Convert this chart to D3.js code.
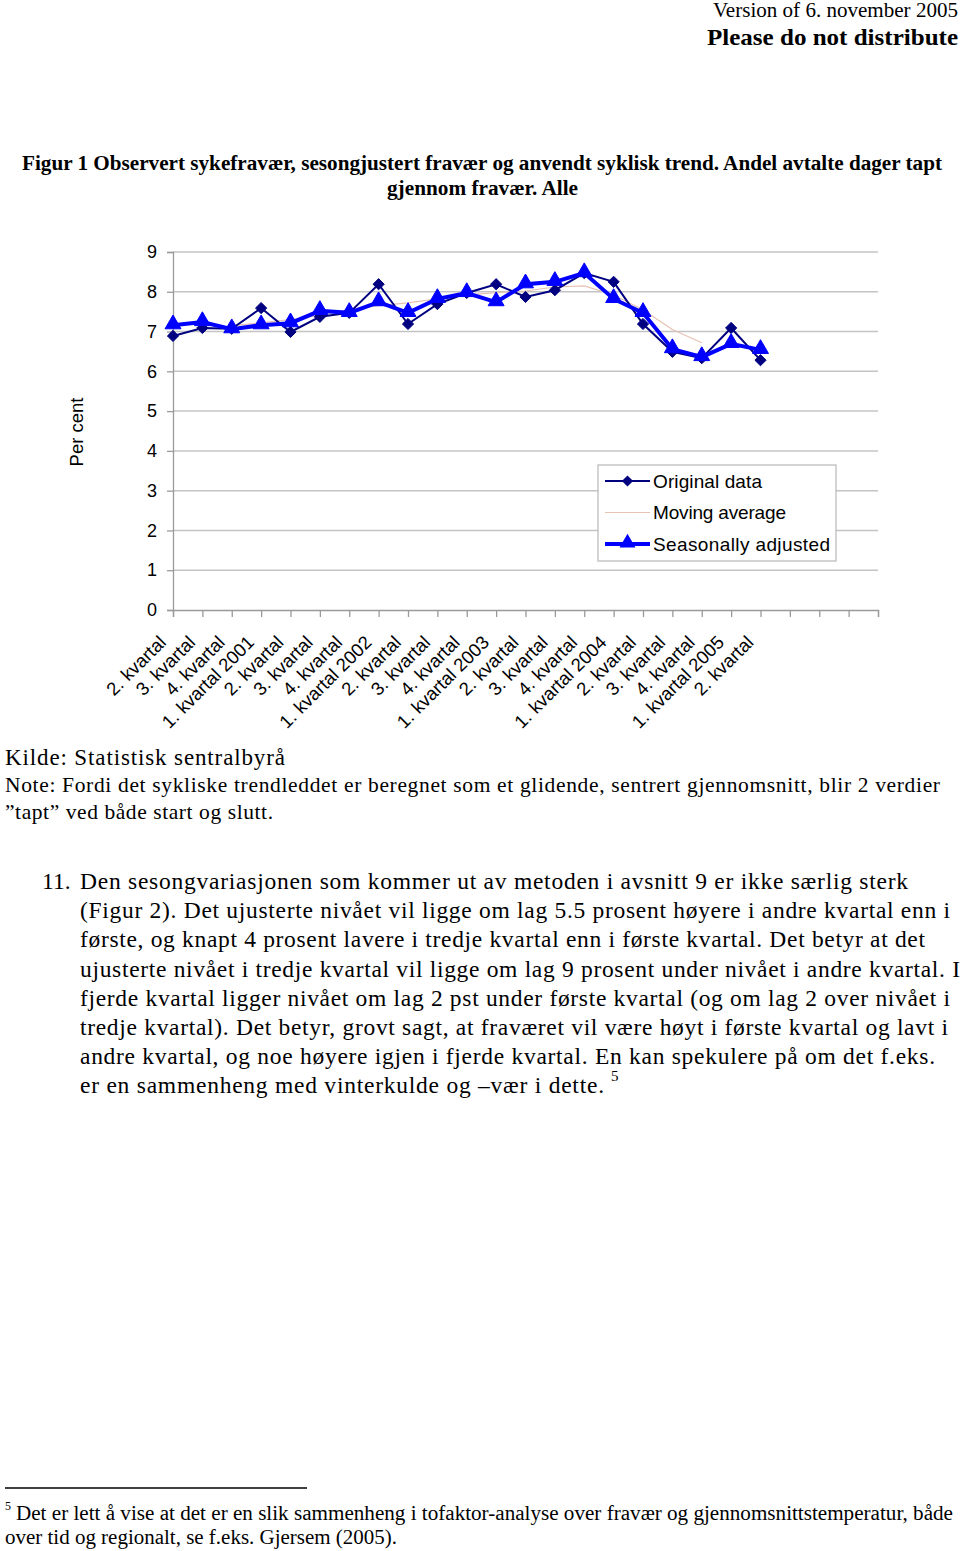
<!DOCTYPE html>
<html>
<head>
<meta charset="utf-8">
<script src="https://cdn.jsdelivr.net/npm/d3@7"></script>
<style>
  html, body { margin: 0; padding: 0; background: #fff; }
  svg { display: block; }
</style>
</head>
<body>
<svg id="page" width="960" height="1551"></svg>
<script>
// ---------- DATA ----------
const categories = ["2. kvartal", "3. kvartal", "4. kvartal", "1. kvartal 2001",
  "2. kvartal", "3. kvartal", "4. kvartal", "1. kvartal 2002",
  "2. kvartal", "3. kvartal", "4. kvartal", "1. kvartal 2003",
  "2. kvartal", "3. kvartal", "4. kvartal", "1. kvartal 2004",
  "2. kvartal", "3. kvartal", "4. kvartal", "1. kvartal 2005",
  "2. kvartal"];
const originalData = [6.89, 7.09, 7.07, 7.59, 6.99, 7.37, 7.47, 8.19, 7.19, 7.69, 7.97,
  8.19, 7.87, 8.04, 8.47, 8.25, 7.19, 6.49, 6.33, 7.09, 6.28];
const movingAverage = [null, null, 7.15, 7.22, 7.30, 7.42, 7.55, 7.65, 7.72, 7.82, 7.92,
  7.98, 8.02, 8.12, 8.15, 7.92, 7.55, 7.05, 6.72, null, null];
const seasonallyAdjusted = [7.16, 7.24, 7.06, 7.16, 7.21, 7.52, 7.47, 7.74, 7.47, 7.82, 7.97,
  7.74, 8.19, 8.25, 8.47, 7.82, 7.47, 6.56, 6.36, 6.69, 6.54];
const yTicks = [0, 1, 2, 3, 4, 5, 6, 7, 8, 9];
const slotCount = 25; // category axis slots (last ones empty)
const seriesNames = ["Original data", "Moving average", "Seasonally adjusted"];

const headerLines = ["Version of 6. november 2005", "Please do not distribute"];
const titleLines = ["Figur 1 Observert sykefravær, sesongjustert fravær og anvendt syklisk trend. Andel avtalte dager tapt",
  "gjennom fravær. Alle"];
const noteLines = ["Kilde: Statistisk sentralbyrå",
  "Note: Fordi det sykliske trendleddet er beregnet som et glidende, sentrert gjennomsnitt, blir 2 verdier",
  "”tapt” ved både start og slutt."];
const bodyLines = [
  "Den sesongvariasjonen som kommer ut av metoden i avsnitt 9 er ikke særlig sterk",
  "(Figur 2). Det ujusterte nivået vil ligge om lag 5.5 prosent høyere i andre kvartal enn i",
  "første, og knapt 4 prosent lavere i tredje kvartal enn i første kvartal. Det betyr at det",
  "ujusterte nivået i tredje kvartal vil ligge om lag 9 prosent under nivået i andre kvartal. I",
  "fjerde kvartal ligger nivået om lag 2 pst under første kvartal (og om lag 2 over nivået i",
  "tredje kvartal). Det betyr, grovt sagt, at fraværet vil være høyt i første kvartal og lavt i",
  "andre kvartal, og noe høyere igjen i fjerde kvartal. En kan spekulere på om det f.eks.",
  "er en sammenheng med vinterkulde og –vær i dette."];
const footnoteLines = ["Det er lett å vise at det er en slik sammenheng i tofaktor-analyse over fravær og gjennomsnittstemperatur, både",
  "over tid og regionalt, se f.eks. Gjersem (2005)."];

// ---------- PAGE ----------
const svg = d3.select("#page");
const SERIF = "'Liberation Serif', 'Times New Roman', serif";
const SANS = "'Liberation Sans', Arial, sans-serif";

function txt(x, y, s, o = {}) {
  const t = svg.append("text")
    .attr("x", x).attr("y", y)
    .attr("font-family", o.family || SERIF)
    .attr("font-size", o.size || 20)
    .attr("font-weight", o.weight || "normal")
    .attr("text-anchor", o.anchor || "start")
    .attr("fill", "#000")
    .text(s);
  if (o.width) t.attr("textLength", o.width).attr("lengthAdjust", o.adjust || "spacingAndGlyphs");
  return t;
}

// header
txt(958, 17, headerLines[0], {size: 20, anchor: "end", width: 245});
txt(958, 45, headerLines[1], {size: 24, weight: "bold", anchor: "end", width: 251});
// title
txt(22, 170, titleLines[0], {size: 20, weight: "bold", width: 920});
txt(387, 195, titleLines[1], {size: 20, weight: "bold", width: 191});

// ---------- CHART ----------
const x = d3.scaleLinear().domain([0, slotCount - 1]).range([173, 878]);
const y = d3.scaleLinear().domain([0, 9]).range([610, 252]);
const chart = svg.append("g");

// gridlines
chart.append("g").selectAll("line").data(yTicks.filter(d => d > 0)).join("line")
  .attr("x1", x(0)).attr("x2", x(slotCount - 1))
  .attr("y1", d => y(d)).attr("y2", d => y(d))
  .attr("stroke", "#c4c4c4").attr("stroke-width", 1.5);

// y axis
const yAxis = chart.append("g").attr("transform", `translate(${x(0)},0)`)
  .call(d3.axisLeft(y).tickValues(yTicks).tickSize(6).tickPadding(10).tickFormat(d3.format("d")));
yAxis.select(".domain").attr("stroke", "#9a9a9a").attr("stroke-width", 1.3);
yAxis.selectAll(".tick line").attr("stroke", "#9a9a9a").attr("stroke-width", 1.3);
yAxis.selectAll(".tick text").attr("font-family", SANS).attr("font-size", 18).attr("fill", "#000");

// x axis
const xAxis = chart.append("g").attr("transform", `translate(0,${y(0)})`)
  .call(d3.axisBottom(x).tickValues(d3.range(slotCount)).tickSize(7)
    .tickFormat(i => categories[i] || ""));
xAxis.select(".domain").attr("stroke", "#9a9a9a").attr("stroke-width", 1.3);
xAxis.selectAll(".tick line").attr("stroke", "#9a9a9a").attr("stroke-width", 1.3);
xAxis.selectAll(".tick text")
  .attr("font-family", SANS).attr("font-size", 18.5).attr("fill", "#000")
  .attr("x", 0).attr("y", 0).attr("dy", "0.35em")
  .attr("text-anchor", "end")
  .attr("transform", "translate(-11,29) rotate(-45)");

// y axis title
svg.append("text")
  .attr("transform", "translate(83,432) rotate(-90)")
  .attr("text-anchor", "middle")
  .attr("font-family", SANS).attr("font-size", 18.5)
  .text("Per cent");

// series
const lineGen = d3.line().defined(d => d != null).x((d, i) => x(i)).y(d => y(d));
chart.append("path").datum(movingAverage)
  .attr("d", lineGen).attr("fill", "none").attr("stroke", "#e6c2b4").attr("stroke-width", 1.2);
chart.append("path").datum(originalData)
  .attr("d", lineGen).attr("fill", "none").attr("stroke", "#000080").attr("stroke-width", 2);
chart.append("path").datum(seasonallyAdjusted)
  .attr("d", lineGen).attr("fill", "none").attr("stroke", "#0000ff").attr("stroke-width", 4);

const diamond = d3.symbol().type(d3.symbolDiamond2).size(80);
const triangle = d3.symbol().type(d3.symbolTriangle).size(110);
chart.append("g").selectAll("path").data(originalData).join("path")
  .attr("d", diamond)
  .attr("transform", (d, i) => `translate(${x(i)},${y(d)})`)
  .attr("fill", "#000080").attr("stroke", "#000080").attr("stroke-width", 1);
chart.append("g").selectAll("path").data(seasonallyAdjusted).join("path")
  .attr("d", triangle)
  .attr("transform", (d, i) => `translate(${x(i)},${y(d) - 1})`)
  .attr("fill", "#0000ff").attr("stroke", "#0000ff").attr("stroke-width", 1);

// legend
const leg = svg.append("g").attr("transform", "translate(598,465)");
leg.append("rect").attr("width", 238).attr("height", 96)
  .attr("fill", "#fff").attr("stroke", "#bdbdbd").attr("stroke-width", 1.3);
const legStyles = [
  {stroke: "#000080", w: 2, sym: diamond, fill: "#000080"},
  {stroke: "#e6c2b4", w: 1.2, sym: null},
  {stroke: "#0000ff", w: 4, sym: triangle, fill: "#0000ff"}
];
const legWidths = [109, 133, 177];
seriesNames.forEach((name, k) => {
  const cy = 16 + k * 31.5;
  const st = legStyles[k];
  leg.append("line").attr("x1", 7).attr("x2", 52).attr("y1", cy).attr("y2", cy)
    .attr("stroke", st.stroke).attr("stroke-width", st.w);
  if (st.sym) leg.append("path").attr("d", st.sym)
    .attr("transform", `translate(29.5,${cy - (k === 2 ? 1 : 0)})`).attr("fill", st.fill);
  leg.append("text").attr("x", 55).attr("y", cy).attr("dy", "0.35em")
    .attr("font-family", SANS).attr("font-size", 19)
    .attr("textLength", legWidths[k]).attr("lengthAdjust", "spacing")
    .text(name);
});

// ---------- TEXT BELOW ----------
txt(5, 765, noteLines[0], {size: 23, width: 280, adjust: "spacing"});
txt(5, 792, noteLines[1], {size: 21.5, width: 935, adjust: "spacing"});
txt(5, 819, noteLines[2], {size: 21.5, width: 268, adjust: "spacing"});

const bodyEnds = [908, 950, 925, 960, 950, 948, 935, 604];
txt(42, 889, "11.", {size: 23.5});
bodyLines.forEach((s, i) => {
  txt(80, 889 + i * 29.2, s, {size: 23.5, width: bodyEnds[i] - 80, adjust: "spacing"});
});
txt(611, 1081, "5", {size: 15});

// footnote
svg.append("line").attr("x1", 5).attr("x2", 307).attr("y1", 1488).attr("y2", 1488)
  .attr("stroke", "#000").attr("stroke-width", 1.3);
txt(5, 1510, "5", {size: 12});
txt(16, 1520, footnoteLines[0], {size: 20, width: 937});
txt(5, 1544, footnoteLines[1], {size: 20, width: 392});
</script>
</body>
</html>
